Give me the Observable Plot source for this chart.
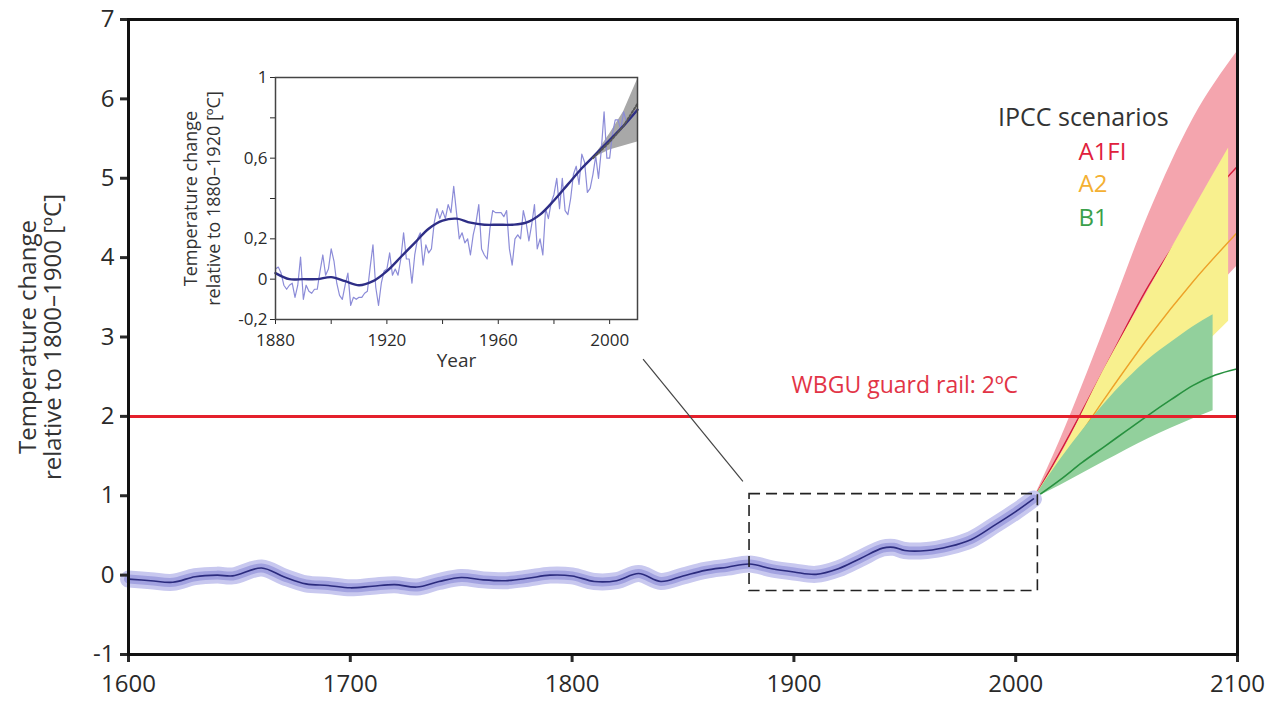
<!DOCTYPE html>
<html><head><meta charset="utf-8">
<script src="https://cdn.jsdelivr.net/npm/d3@7"></script>
<script src="https://cdn.jsdelivr.net/npm/@observablehq/plot@0.6"></script>
<style>
body{margin:0;background:#fff;}
#wrap{position:relative;width:1268px;height:707px;overflow:hidden;}
#inset{position:absolute;left:160px;top:55px;}
</style></head><body><div id="wrap"><div id="main"></div><div id="inset"></div></div>
<script>
// ---------- Main chart data ----------
const histYears = [1600,1610,1620,1630,1640,1647,1660,1670,1680,1690,1700,1710,1720,1730,1740,1750,1760,1770,1780,1790,1800,1810,1820,1830,1840,1850,1860,1870,1880,1890,1900,1910,1920,1930,1940,1945,1950,1960,1970,1980,1990,2000,2008];
const histTemps = [-0.05,-0.07,-0.09,-0.02,0.0,-0.01,0.09,-0.02,-0.11,-0.13,-0.16,-0.14,-0.12,-0.15,-0.08,-0.03,-0.06,-0.07,-0.04,0.0,-0.01,-0.08,-0.07,0.02,-0.08,-0.01,0.06,0.10,0.14,0.08,0.04,0.01,0.08,0.21,0.34,0.35,0.31,0.31,0.36,0.45,0.62,0.80,0.96];

const scenYears = [2008,2020,2040,2060,2080,2100];
const a1fiHigh  = [0.96,1.70,3.10,4.55,5.75,6.60];
const a1fiLow   = [0.96,1.30,2.00,2.70,3.30,3.90];
const a1fiMid   = [0.96,1.55,2.60,3.65,4.50,5.15];
const a2Years   = [2008,2020,2040,2060,2080,2096];
const a2High    = [0.96,1.50,2.60,3.60,4.60,5.38];
const a2Low     = [0.96,1.15,1.60,2.10,2.75,3.20];
const a2Mid     = [0.96,1.40,2.22,3.00,3.70,4.32];
const a2MidYears= [2008,2020,2040,2060,2080,2100];
const b1Years   = [2008,2020,2030,2040,2050,2060,2070,2080,2089];
const b1High    = [0.96,1.45,1.82,2.16,2.46,2.72,2.93,3.13,3.28];
const b1Low     = [0.96,1.13,1.28,1.43,1.58,1.72,1.85,1.97,2.07];
const b1MidYears= [2008,2020,2030,2040,2050,2060,2070,2080,2090,2100];
const b1Mid     = [0.96,1.20,1.42,1.62,1.82,2.02,2.21,2.39,2.52,2.60];

const guardValue = 2;
const zoomBox = {x1:1880, x2:2010, y1:-0.2, y2:1.02};
const connector = {x1:1832, y1:2.72, x2:1877, y2:1.18};

const xTicksMain = [1600,1700,1800,1900,2000,2100];
const yTicksMain = [-1,0,1,2,3,4,5,6,7];

const guardLabel = {x:1950, y:2.39, text:"WBGU guard rail: 2ºC"};
const legendTitle = {x:1992, y:5.76, text:"IPCC scenarios"};
const legendItems = [
  {x:2028.3, y:5.33, text:"A1FI", color:"#e0203c"},
  {x:2028.3, y:4.92, text:"A2",   color:"#f4b032"},
  {x:2028.3, y:4.50, text:"B1",   color:"#3aa04a"}
];

// ---------- Inset data ----------
const annualYears = d3.range(1880, 2008);
const annualTemps = [0.05,0.06,0.03,-0.03,-0.05,-0.03,-0.02,-0.09,-0.03,0.11,
 -0.10,-0.03,-0.06,-0.07,-0.05,-0.05,0.04,0.12,0.02,0.05,
 0.15,0.09,-0.02,-0.08,-0.10,-0.03,0.03,-0.13,-0.09,-0.10,
 -0.09,-0.09,-0.07,-0.06,0.06,0.17,-0.04,-0.13,-0.02,0.04,
 0.05,0.13,0.02,0.05,0.02,0.10,0.23,0.10,0.10,-0.02,
 0.12,0.20,0.23,0.07,0.17,0.13,0.15,0.28,0.35,0.30,
 0.34,0.30,0.37,0.33,0.46,0.33,0.20,0.23,0.18,0.20,
 0.12,0.22,0.28,0.37,0.15,0.12,0.10,0.25,0.34,0.33,
 0.33,0.33,0.31,0.34,0.15,0.07,0.20,0.22,0.20,0.34,
 0.28,0.19,0.27,0.37,0.15,0.20,0.12,0.35,0.30,0.38,
 0.42,0.50,0.35,0.50,0.34,0.32,0.40,0.52,0.56,0.47,
 0.62,0.58,0.43,0.45,0.52,0.61,0.50,0.64,0.83,0.60,
 0.60,0.72,0.79,0.79,0.74,0.83,0.78,0.80];
const smoothYears = [1880,1885,1890,1895,1900,1905,1910,1915,1920,1925,1930,1935,1940,1945,1950,1955,1960,1965,1970,1975,1980,1985,1990,1995,2000,2005,2010];
const smoothTemps = [0.03,0.00,0.00,0.00,0.01,-0.01,-0.03,-0.01,0.04,0.11,0.18,0.25,0.29,0.30,0.28,0.27,0.27,0.27,0.28,0.32,0.39,0.47,0.55,0.62,0.69,0.76,0.84];
const unctYears = [1994,2000,2005,2010];
const unctLow   = [0.60,0.64,0.66,0.68];
const unctHigh  = [0.60,0.72,0.83,0.99];
const unctMid   = [0.60,0.68,0.76,0.87];

const xTicksInset = [1880,1900,1920,1940,1960,1980,2000];
const xLabelsInset = ["1880","","1920","","1960","","2000"];
const yTicksInset = [-0.2,0,0.2,0.4,0.6,0.8,1];
const yLabelsInset = ["-0,2","0","0,2","","0,6","","1"];

// ---------- Build tables ----------
const hist = histYears.map((y,i)=>({year:y, t:histTemps[i]}));
const a1fiBand = scenYears.map((y,i)=>({year:y, lo:a1fiLow[i], hi:a1fiHigh[i]}));
const a1fiLine = scenYears.map((y,i)=>({year:y, t:a1fiMid[i]}));
const a2Band = a2Years.map((y,i)=>({year:y, lo:a2Low[i], hi:a2High[i]}));
const a2Line = a2MidYears.map((y,i)=>({year:y, t:a2Mid[i]}));
const b1Band = b1Years.map((y,i)=>({year:y, lo:b1Low[i], hi:b1High[i]}));
const b1Line = b1MidYears.map((y,i)=>({year:y, t:b1Mid[i]}));

const FONT = "'Open Sans', sans-serif";
const curve = "monotone-x";

const main = Plot.plot({
  width:1268, height:707,
  marginLeft:128, marginRight:31, marginTop:19, marginBottom:53,
  style:{fontFamily:FONT, fontSize:"25px", color:"#2a2a2a", background:"white", overflow:"visible"},
  x:{domain:[1600,2100]},
  y:{domain:[-1,7]},
  marks:[
    Plot.areaY(a1fiBand,{x:"year", y1:"lo", y2:"hi", fill:"#f4a5ae", curve}),
    Plot.line(a1fiLine,{x:"year", y:"t", stroke:"#d41c3a", strokeWidth:1.4, curve}),
    Plot.areaY(a2Band,{x:"year", y1:"lo", y2:"hi", fill:"#f8f08e", curve}),
    Plot.line(a2Line,{x:"year", y:"t", stroke:"#eda228", strokeWidth:1.4, curve}),
    Plot.areaY(b1Band,{x:"year", y1:"lo", y2:"hi", fill:"#92d09c", curve}),
    Plot.line(b1Line,{x:"year", y:"t", stroke:"#27913f", strokeWidth:1.6, curve}),
    Plot.ruleY([guardValue],{stroke:"#e4202c", strokeWidth:3}),
    Plot.line(hist,{x:"year", y:"t", stroke:"#c8c8ef", strokeWidth:17, curve:"catmull-rom"}),
    Plot.line(hist,{x:"year", y:"t", stroke:"#a2a2e0", strokeWidth:9, curve:"catmull-rom"}),
    Plot.line(hist,{x:"year", y:"t", stroke:"#2b2b7e", strokeWidth:1.6, curve:"catmull-rom"}),
    Plot.rect([zoomBox],{x1:"x1", x2:"x2", y1:"y1", y2:"y2", fill:"none", stroke:"#222", strokeWidth:1.6, strokeDasharray:"11,6"}),
    Plot.link([connector],{x1:"x1", y1:"y1", x2:"x2", y2:"y2", stroke:"#444", strokeWidth:1.2}),
    Plot.text([guardLabel],{x:"x", y:"y", text:"text", fill:"#e23446", fontSize:23, textAnchor:"middle"}),
    Plot.text([legendTitle],{x:"x", y:"y", text:"text", fill:"#333", fontSize:25, textAnchor:"start"}),
    Plot.text(legendItems,{x:"x", y:"y", text:"text", fill:d=>d.color, fontSize:24, textAnchor:"start"}),
    Plot.text(["Temperature change\nrelative to 1800–1900 [ºC]"],{frameAnchor:"left", text:d=>d, rotate:-90, dx:-88, fontSize:24, lineHeight:1.05, textAnchor:"middle", lineAnchor:"middle", fill:"#333"}),
    Plot.axisX({ticks:xTicksMain, tickFormat:d=>String(d), tickSize:8, strokeWidth:3, tickPadding:12, label:null, fontSize:24}),
    Plot.axisY({ticks:yTicksMain, tickFormat:d=>String(d), tickSize:8, strokeWidth:3, tickPadding:6, label:null, fontSize:24}),
    Plot.frame({stroke:"#111", strokeWidth:3})
  ]
});
document.getElementById("main").appendChild(main);

// ---------- Inset ----------
const annual = annualYears.map((y,i)=>({year:y, t:annualTemps[i]}));
const smooth = smoothYears.map((y,i)=>({year:y, t:smoothTemps[i]}));
const unct = unctYears.map((y,i)=>({year:y, lo:unctLow[i], hi:unctHigh[i], mid:unctMid[i]}));

const inset = Plot.plot({
  width:490, height:330,
  marginLeft:115, marginRight:13, marginTop:22, marginBottom:66,
  style:{fontFamily:FONT, fontSize:"17px", color:"#2a2a2a", background:"transparent", overflow:"visible"},
  x:{domain:[1880,2010]},
  y:{domain:[-0.2,1]},
  marks:[
    Plot.frame({fill:"white", stroke:"none"}),
    Plot.areaY(unct,{x:"year", y1:"lo", y2:"hi", fill:"#a8a8a8", curve:"linear"}),
    Plot.line(annual,{x:"year", y:"t", stroke:"#8c8cd8", strokeWidth:1.2}),
    Plot.line(smooth,{x:"year", y:"t", stroke:"#2e2e86", strokeWidth:2.4, curve:"catmull-rom"}),
    Plot.line(unct,{x:"year", y:"mid", stroke:"#555", strokeWidth:2, strokeDasharray:"2,2"}),
    Plot.axisX({ticks:xTicksInset, tickFormat:(d,i)=>xLabelsInset[i], tickSize:5, tickPadding:9, label:null, fontSize:17}),
    Plot.axisY({ticks:yTicksInset, tickFormat:(d,i)=>yLabelsInset[i], tickSize:5, tickPadding:3, label:null, fontSize:17}),
    Plot.text(["Year"],{frameAnchor:"bottom", text:d=>d, dy:47, fontSize:19, fill:"#333"}),
    Plot.text(["Temperature change\nrelative to 1880–1920 [ºC]"],{frameAnchor:"left", text:d=>d, rotate:-90, dx:-74, fontSize:18, lineHeight:1.25, textAnchor:"middle", lineAnchor:"middle", fill:"#333"}),
    Plot.frame({stroke:"#444", strokeWidth:1.5})
  ]
});
document.getElementById("inset").appendChild(inset);
</script></body></html>
